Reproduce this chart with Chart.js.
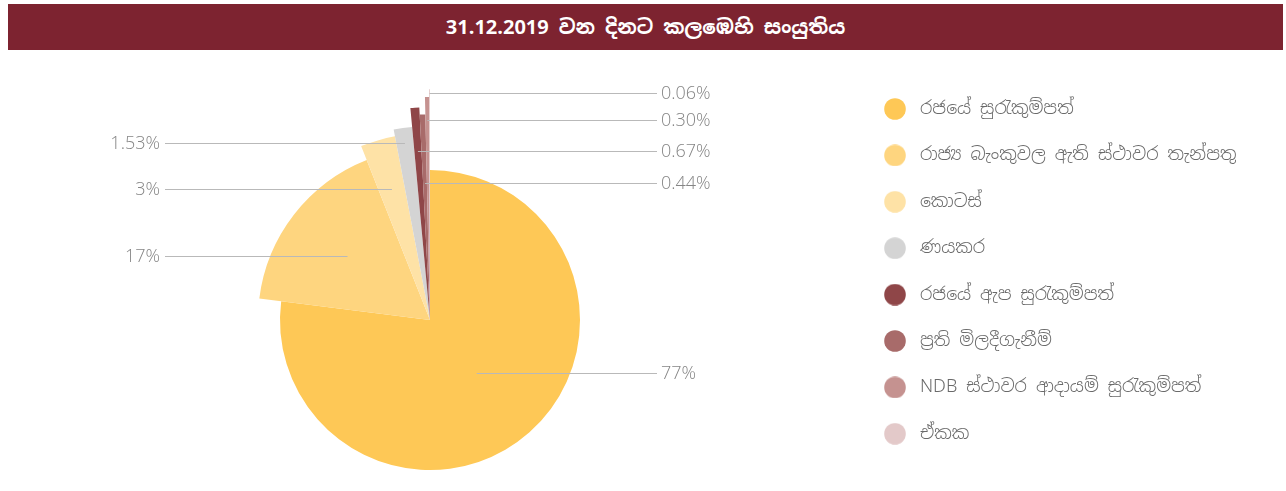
<!DOCTYPE html>
<html>
<head>
<meta charset="utf-8">
<script src="https://cdn.jsdelivr.net/npm/chart.js@4.4.1/dist/chart.umd.min.js"></script>
<style>
  html, body { margin: 0; padding: 0; background: #fff; overflow: hidden; width: 1286px; height: 491px; }
  #title {
    position: absolute; left: 8px; top: 4px; width: 1275px; height: 46px;
    background: #7d2330; color: #fff; text-align: center;
    font-family: 'Noto Sans Sinhala', 'Iskoola Pota', 'Noto Sans', 'DejaVu Sans', sans-serif;
    font-weight: bold; font-size: 20px; line-height: 46px;
  }
  #wrap { position: absolute; left: 0; top: 55px; width: 1286px; height: 530px; }
</style>
</head>
<body>
<div id="title">31.12.2019 වන දිනට කලඹෙහි සංයුතිය</div>
<div id="wrap"><canvas id="c" width="1286" height="530"></canvas></div>
<script>
// ---- data ----
const categories = [
  'රජයේ සුරැකුම්පත්',
  'රාජ්‍ය බැංකුවල ඇති ස්ථාවර තැන්පතු',
  'කොටස්',
  'ණයකර',
  'රජයේ ඇප සුරැකුම්පත්',
  'ප්‍රති මිලදීගැනීම්',
  'NDB ස්ථාවර ආදායම් සුරැකුම්පත්',
  'ඒකක'
];
const shares = [77, 17, 3, 1.53, 0.67, 0.44, 0.30, 0.06];

// ---- styles / layout ----
const colors = ['#fec856', '#fed57f', '#fee2a6', '#d4d4d4', '#8f4648', '#a86b6a', '#c59290', '#e3c9c9'];
const radiusScale = [1, 1.147, 1.247, 1.293, 1.419, 1.371, 1.487, 1.538];
const labelDy = [53, -64, -131, -177, -169, -137, -200, -227];
const labelSide = ['R', 'L', 'L', 'L', 'R', 'R', 'R', 'R'];
const BASE_R = 150;
const LEGEND_LEFT = 850.6;
const CANVAS_W = 1286;

function dot(color) {
  const c = document.createElement('canvas');
  c.width = 22; c.height = 22;
  const g = c.getContext('2d');
  g.fillStyle = color;
  g.beginPath(); g.arc(11, 11, 10.8, 0, Math.PI * 2); g.fill();
  return c;
}
const dots = colors.map(dot);

function fmt(v) { return Number.isInteger(v) ? String(v) : v.toFixed(2); }

const radiusPlugin = {
  id: 'variableRadius',
  afterDatasetUpdate(chart, args) {
    args.meta.data.forEach((arc, i) => { arc.outerRadius = BASE_R * radiusScale[i]; });
  }
};

const labelPlugin = {
  id: 'sliceLabels',
  afterDatasetsDraw(chart) {
    const ctx = chart.ctx;
    const meta = chart.getDatasetMeta(0);
    ctx.save();
    ctx.font = "300 18px 'Open Sans', 'Lato', sans-serif";
    ctx.textBaseline = 'middle';
    meta.data.forEach((arc, i) => {
      const cx = arc.x, cy = arc.y;
      const mid = (arc.startAngle + arc.endAngle) / 2;
      const dy = labelDy[i];
      const ly = Math.round(cy + dy) + 0.5;
      const sx = cx + dy * Math.cos(mid) / Math.sin(mid);
      ctx.strokeStyle = '#b9b9b9';
      ctx.lineWidth = 1;
      ctx.beginPath();
      ctx.fillStyle = '#858585';
      if (labelSide[i] === 'R') {
        ctx.moveTo(sx, ly); ctx.lineTo(cx + 227, ly); ctx.stroke();
        ctx.textAlign = 'left';
        ctx.fillText(fmt(shares[i]) + '%', cx + 231, ly);
      } else {
        ctx.moveTo(cx - 265, ly); ctx.lineTo(sx, ly); ctx.stroke();
        ctx.textAlign = 'right';
        ctx.fillText(fmt(shares[i]) + '%', cx - 270, ly);
      }
    });
    ctx.restore();
  }
};

const baseGen = Chart.overrides.doughnut.plugins.legend.labels.generateLabels;

const chart = new Chart(document.getElementById('c'), {
  type: 'pie',
  data: {
    labels: categories,
    datasets: [{
      data: shares,
      backgroundColor: colors,
      borderWidth: 0,
      radius: BASE_R
    }]
  },
  options: {
    responsive: false,
    devicePixelRatio: 1,
    animation: false,
    layout: { padding: { left: 9.4, top: 16.6, bottom: 16.6, right: 20 } },
    plugins: {
      tooltip: { enabled: false },
      legend: {
        position: 'right',
        align: 'start',
        maxWidth: 700,
        labels: {
          usePointStyle: true,
          pointStyleWidth: 32,
          boxHeight: 15.5,
          padding: 28.4,
          color: '#6a6a6a',
          font: { family: "'Noto Sans Sinhala', 'Iskoola Pota', 'Open Sans', 'Noto Sans', sans-serif", size: 18, weight: 300 },
          generateLabels(chart) {
            const items = baseGen(chart);
            items.forEach((it, i) => { it.pointStyle = dots[i]; });
            return items;
          }
        }
      }
    }
  },
  plugins: [radiusPlugin, labelPlugin]
});
// place the legend box so its left edge sits at LEGEND_LEFT
chart.options.layout.padding.right = CANVAS_W - LEGEND_LEFT - chart.legend.width;
chart.update();
</script>
</body>
</html>
